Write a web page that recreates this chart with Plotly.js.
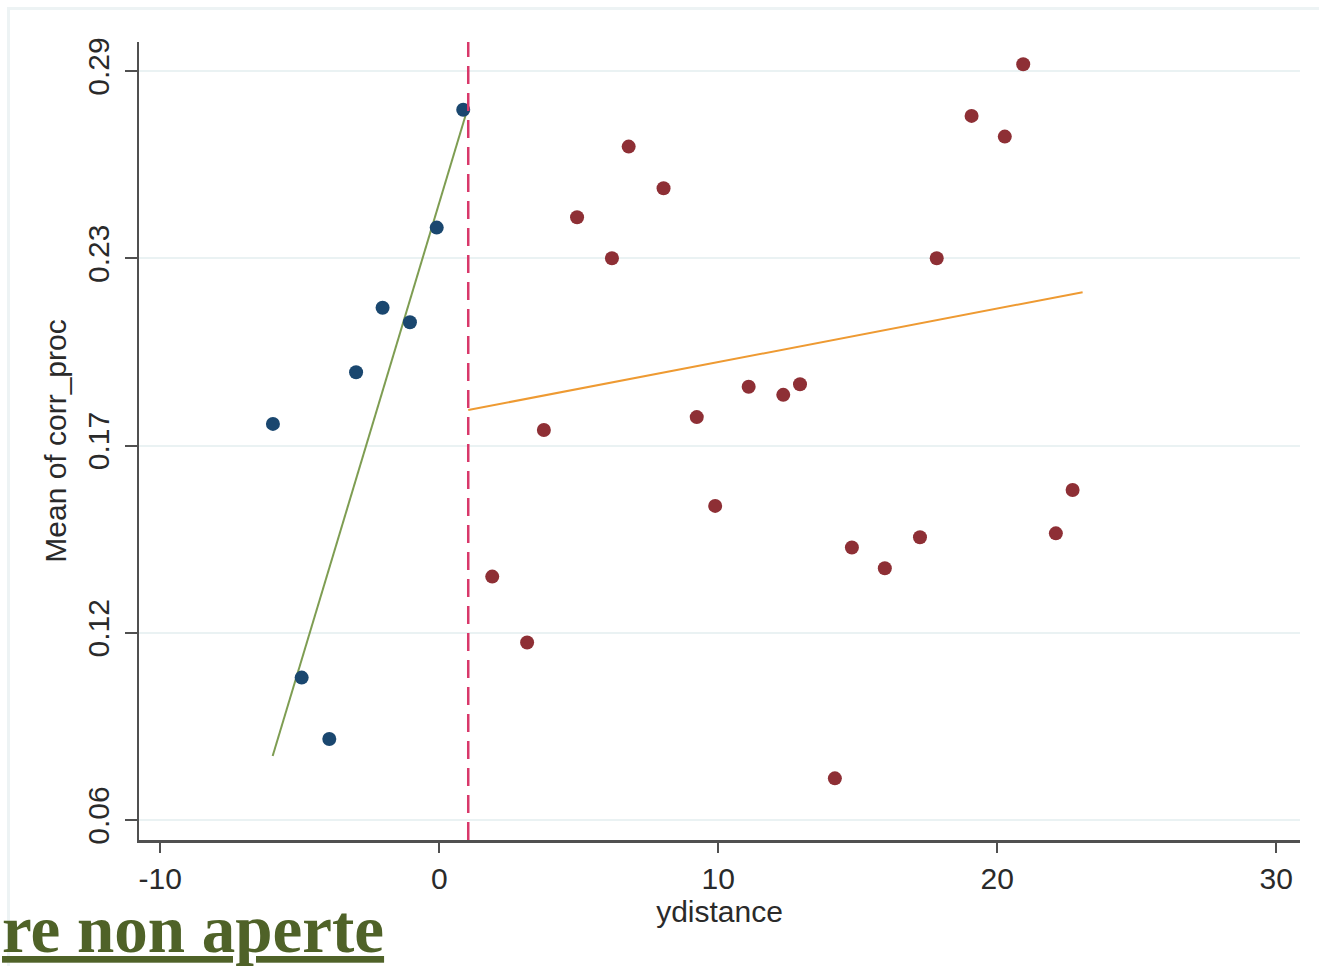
<!DOCTYPE html>
<html>
<head>
<meta charset="utf-8">
<script src="https://cdn.plot.ly/plotly-3.0.1.min.js"></script>
<style>
  html, body { margin: 0; padding: 0; background: #ffffff; }
  #frame { position: absolute; left: 7px; top: 7px; width: 1330px; height: 980px;
           border-left: 3px solid #EDF3F4; border-top: 3px solid #EDF3F4; box-sizing: border-box; }
  #chart { position: absolute; left: 0; top: 0; width: 1319px; height: 966px; }
</style>
</head>
<body>
<div id="frame"></div>
<div id="chart"></div>
<script>
// Left of cutoff (blue points)
const leftX = [-5.96, -4.93, -3.94, -2.98, -2.03, -1.05, -0.09, 0.86];
const leftY = [0.1807, 0.1021, 0.0831, 0.1967, 0.2167, 0.2122, 0.2415, 0.2780];

// Right of cutoff (red points)
const rightX = [1.90, 3.15, 3.75, 4.94, 6.19, 6.79, 8.04, 9.23, 9.89, 11.09, 12.33,
                12.93, 14.18, 14.79, 15.97, 17.23, 17.83, 19.08, 20.27, 20.93, 22.10, 22.70];
const rightY = [0.1334, 0.1130, 0.1788, 0.2447, 0.2320, 0.2666, 0.2537, 0.1828, 0.1553, 0.1922, 0.1897,
                0.1930, 0.0709, 0.1424, 0.1360, 0.1456, 0.2320, 0.2761, 0.2697, 0.2921, 0.1468, 0.1602];

// Linear fits
const fitLeftX = [-5.97, 0.98];
const fitLeftY = [0.0778, 0.2773];
const fitRightX = [1.04, 23.06];
const fitRightY = [0.1850, 0.2215];

// Cutoff
const cutoff = 1.04;

// Axis ticks
const xTickVals = [-10, 0, 10, 20, 30];
const xTickText = ['-10', '0', '10', '20', '30'];
const yTickVals = [0.058, 0.116, 0.174, 0.232, 0.29];
const yTickText = ['0.06', '0.12', '0.17', '0.23', '0.29'];

const traces = [
  { x: fitLeftX, y: fitLeftY, mode: 'lines', type: 'scatter',
    line: { color: '#7E9D52', width: 2 }, hoverinfo: 'skip' },
  { x: fitRightX, y: fitRightY, mode: 'lines', type: 'scatter',
    line: { color: '#EE9A32', width: 2 }, hoverinfo: 'skip' },
  { x: leftX, y: leftY, mode: 'markers', type: 'scatter',
    marker: { color: '#1A476F', size: 14 } },
  { x: rightX, y: rightY, mode: 'markers', type: 'scatter',
    marker: { color: '#8E2F35', size: 14 } }
];

const tickFont = { family: 'Liberation Sans, Arial, sans-serif', size: 30, color: '#2a2a2a' };

const layout = {
  width: 1319, height: 966,
  margin: { l: 139, r: 19, t: 42, b: 126 },
  paper_bgcolor: 'rgba(0,0,0,0)',
  plot_bgcolor: 'rgba(0,0,0,0)',
  showlegend: false,
  xaxis: {
    range: [-10.76, 30.85],
    tickvals: xTickVals, ticktext: xTickText,
    showgrid: false, zeroline: false,
    showline: true, linecolor: '#505050', linewidth: 2.5,
    ticks: 'outside', ticklen: 10, tickwidth: 2, tickcolor: '#505050',
    tickfont: tickFont,
    title: { text: 'ydistance', font: tickFont, standoff: 4 }
  },
  yaxis: {
    range: [0.0518, 0.299],
    tickvals: yTickVals, ticktext: yTickText,
    tickangle: -90,
    ticklabelstandoff: 4,
    showgrid: true, gridcolor: '#EAF2F3', gridwidth: 2,
    zeroline: false,
    showline: true, linecolor: '#505050', linewidth: 2.5,
    ticks: 'outside', ticklen: 12, tickwidth: 2, tickcolor: '#505050',
    tickfont: tickFont,
    title: { text: 'Mean of corr_proc', font: tickFont, standoff: 6 }
  },
  shapes: [
    { type: 'line', xref: 'x', yref: 'paper', x0: cutoff, x1: cutoff, y0: 0, y1: 1,
      line: { color: '#D8386A', width: 2.5, dash: '18px,9px' } }
  ],
  annotations: [
    { xref: 'paper', yref: 'paper', x: -0.1197, y: -0.112, xanchor: 'left', yanchor: 'middle',
      showarrow: false, align: 'left',
      text: '<b><u>re non aperte</u></b>',
      font: { family: 'Liberation Serif, DejaVu Serif, serif', size: 67, color: '#4F6228' } }
  ]
};

Plotly.newPlot('chart', traces, layout, { displayModeBar: false, staticPlot: true });
</script>
</body>
</html>
